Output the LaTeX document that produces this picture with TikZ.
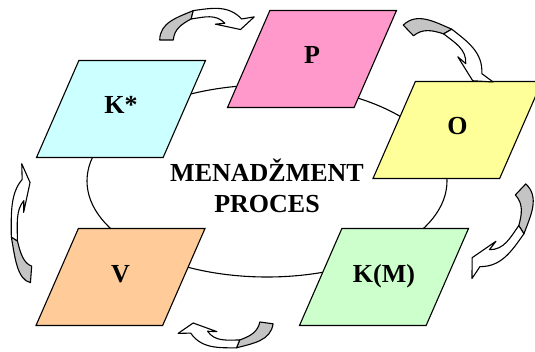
\documentclass[tikz,border=0pt]{standalone}
\usepackage{fontspec}
\setmainfont{Liberation Serif}
\usetikzlibrary{shapes.geometric}
\definecolor{kcyan}{HTML}{CCFFFF}
\definecolor{ppink}{HTML}{FF99CC}
\definecolor{oyellow}{HTML}{FFFF99}
\definecolor{kgreen}{HTML}{CCFFCC}
\definecolor{vorange}{HTML}{FFCC99}
\definecolor{arrowgray}{HTML}{C4C4C4}
\tikzstyle{bent} = [draw=black,line width=1.1pt,line join=round]
\newcommand{\bentarrow}[1]{%
  \begin{scope}[#1]
    \filldraw[bent,fill=arrowgray] (-5.9,0.8) to[out=82,in=195] (29.6,24.1) -- (26.5,16.5) to[out=200,in=78] (6.9,-1) -- cycle;
    \filldraw[bent,fill=white] (29.6,24.1) to[out=0,in=125] (74.1,9.8) -- (86.3,10.1) -- (71.7,0) -- (48.6,8.4) -- (57.7,8) to[out=125,in=0] (26.5,16.5) -- cycle;
  \end{scope}}

\begin{document}
\begin{tikzpicture}
		[x=1pt,y=1pt,
		block/.style={
		draw,
		line width=1.1pt,
		trapezium,
		trapezium left angle=66.4,
		trapezium right angle=113.6,
		trapezium stretches body,
		minimum width=169pt,
		inner sep=0pt,
		text height=53.5pt,
		text depth=43.5pt,
		font=\fontsize{26}{31}\selectfont\bfseries}
		]
		\useasboundingbox (0,0) rectangle (535,351);
		\draw[line width=1.1pt] (267,170) ellipse [x radius=180, y radius=96];
		\node[block,fill=kcyan] (kstar) at (121,242) {K*};
		\node[block,fill=ppink] (planning) at (312,292) {P};
		\node[block,fill=oyellow] (organizing) at (457.5,221) {O};
		\node[block,fill=kgreen] (controlling) at (384,74) {K(M)};
		\node[block,fill=vorange] (leading) at (120.5,74) {V};
		\node[font=\fontsize{26}{31}\selectfont\bfseries,align=center] (process) at (267,165.5) {MENADŽMENT\\PROCES};

		\bentarrow{shift={(166,311)},rotate=8,scale=1.05}
		\bentarrow{shift={(408,321)},rotate=-38.1,scale=1.147}
		\bentarrow{shift={(521,162)},rotate=234.6,scale=1.175}
		\bentarrow{shift={(267,28)},rotate=180,scale=1.03}
		\bentarrow{shift={(31,76)},rotate=90.6,xscale=1.29,yscale=0.8}
		\end{tikzpicture}
\end{document}
